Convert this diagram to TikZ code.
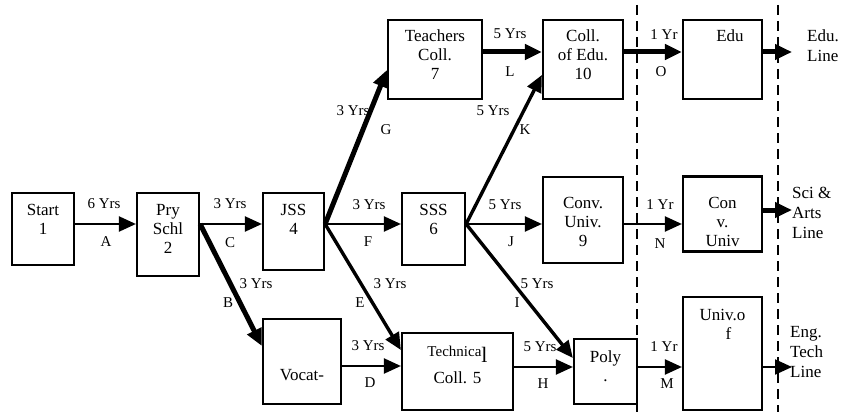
\documentclass[tikz,border=0pt]{standalone}
\usepackage{fontspec}
\setmainfont{Liberation Serif}
\usetikzlibrary{arrows.meta}
\begin{document}
\begin{tikzpicture}[x=1pt,y=-1pt,
  box/.style={draw, line width=2.2pt, fill=white, inner sep=0pt},
  btxt/.style={font=\fontsize{17}{19}\selectfont, align=center, inner sep=0pt, anchor=north},
  lab/.style={font=\fontsize{15}{18}\selectfont, inner sep=0pt},
  side/.style={font=\fontsize{17}{20}\selectfont, align=left, inner sep=0pt, anchor=north west},
  tip/.style={-{Triangle[length=17pt,width=15pt]}},
  thinarr/.style={tip, line width=2.2pt},
  medarr/.style={tip, line width=3.4pt},
  thickarr/.style={tip, line width=5pt},
  divider/.style={line width=2.5pt, dash pattern=on 10pt off 6pt}]
\useasboundingbox (0,0) rectangle (843,412);
% helper rows
\coordinate (y52) at (0,52);
\coordinate (y70) at (0,70);
\coordinate (y75) at (0,75);
\coordinate (y210) at (0,210);
\coordinate (y224) at (0,224);
\coordinate (y346) at (0,346);
\coordinate (y350) at (0,350);
\coordinate (y358) at (0,358);
\coordinate (y366) at (0,366);
\coordinate (y367) at (0,367);
% dashed dividers
\coordinate (d1t) at (637,5);
\coordinate (d1b) at (637,412);
\coordinate (d2t) at (778,5);
\coordinate (d2b) at (778,412);
\draw[divider] (d1t) -- (d1b);
\draw[divider] (d2t) -- (d2b);
% boxes
\node[box, minimum width=62pt, minimum height=72pt] (start) at (43,229) {};
\node[box, minimum width=62pt, minimum height=83pt] (pry) at (168,234.5) {};
\node[box, minimum width=61pt, minimum height=77pt] (jss) at (293.5,231.5) {};
\node[box, minimum width=63pt, minimum height=72pt] (sss) at (433.5,229) {};
\node[box, minimum width=94pt, minimum height=79pt] (teach) at (435,59.5) {};
\node[box, minimum width=80pt, minimum height=79pt] (colledu) at (583,59.5) {};
\node[box, minimum width=79pt, minimum height=79pt] (edu) at (722.5,59.5) {};
\node[box, minimum width=80pt, minimum height=86pt] (conv) at (583,220) {};
\node[box, minimum width=79pt, minimum height=75pt] (conuniv) at (722.5,214) {};
\node[box, minimum width=78pt, minimum height=85pt] (vocat) at (302,361.5) {};
\node[box, minimum width=111pt, minimum height=77pt] (tech) at (457.5,371.5) {};
\node[box, minimum width=63pt, minimum height=65pt] (poly) at (605.5,371.5) {};
\node[box, minimum width=79pt, minimum height=113pt] (univ) at (722.5,353.5) {};
% box texts
\node[btxt] (tstart) at (43,204) {Start\\1};
\node[btxt] (tpry) at (168,204) {Pry\\Schl\\2};
\node[btxt] (tjss) at (293.5,204) {JSS\\4};
\node[btxt] (tsss) at (433.5,204) {SSS\\6};
\node[btxt] (tteach) at (435,30) {Teachers\\Coll.\\7};
\node[btxt] (tcolledu) at (583,30) {Coll.\\of Edu.\\10};
\node[btxt] (tedu) at (730,30) {Edu};
\node[btxt] (tconv) at (583,197) {Conv.\\Univ.\\9};
\node[btxt] (tconuniv) at (722.5,197) {Con\\v.\\Univ};
\node[btxt] (tvocat) at (302,369) {Vocat-};
\node[btxt] (ttech) at (457.5,346) {{\fontsize{15}{18}\selectfont Technica}\smash{\raisebox{-6pt}{\fontsize{22}{20}\selectfont l}}\\[8pt]Coll. 5};
\node[btxt] (tpoly) at (605.5,351) {Poly\\.};
\node[btxt] (tuniv) at (722.5,309) {Univ.o\\\hspace*{12pt}f};
% side texts
\node[side] (eduline) at (807,30) {Edu.\\Line};
\node[side] (sciline) at (792,187) {Sci \&\\Arts\\Line};
\node[side] (engline) at (790,326) {Eng.\\Tech\\Line};
\coordinate (eduend) at (792,52);
\coordinate (sciend) at (792,210);
\coordinate (engend) at (792,367);
% connectors
\draw[thinarr] (start.east |- y224) -- (pry.west |- y224);
\draw[thinarr] (pry.east |- y224) -- (jss.west |- y224);
\draw[thinarr] (jss.east |- y224) -- (sss.west |- y224);
\draw[thinarr] (sss.east |- y224) -- (conv.west |- y224);
\draw[thinarr] (conv.east |- y224) -- (conuniv.west |- y224);
\draw[thickarr] (conuniv.east |- y210) -- (sciend);
\draw[thickarr] (teach.east |- y52) -- (colledu.west |- y52);
\draw[thickarr] (colledu.east |- y52) -- (edu.west |- y52);
\draw[thickarr] (edu.east |- y52) -- (eduend);
\draw[thickarr] (jss.east |- y224) -- (teach.west |- y70);
\draw[medarr] (sss.east |- y224) -- (colledu.west |- y75);
\draw[thickarr] (pry.east |- y224) -- (vocat.west |- y346);
\draw[medarr] (jss.east |- y224) -- (tech.west |- y350);
\draw[medarr] (sss.east |- y224) -- (poly.west |- y358);
\draw[thinarr] (vocat.east |- y366) -- (tech.west |- y366);
\draw[thinarr] (tech.east |- y367) -- (poly.west |- y367);
\draw[thinarr] (poly.east |- y367) -- (univ.west |- y367);
\draw[thinarr] (univ.east |- y367) -- (engend);
% connector labels
\node[lab] (lA1) at (104,204) {6 Yrs};
\node[lab] (lA2) at (106,242) {A};
\node[lab] (lC1) at (230,204) {3 Yrs};
\node[lab] (lC2) at (230,243) {C};
\node[lab] (lF1) at (369,205) {3 Yrs};
\node[lab] (lF2) at (368,242) {F};
\node[lab] (lJ1) at (505,205) {5 Yrs};
\node[lab] (lJ2) at (511,242) {J};
\node[lab] (lN1) at (660,205) {1 Yr};
\node[lab] (lN2) at (660,244) {N};
\node[lab] (lL1) at (510,34) {5 Yrs};
\node[lab] (lL2) at (510,72) {L};
\node[lab] (lO1) at (664,35) {1 Yr};
\node[lab] (lO2) at (661,72) {O};
\node[lab] (lG1) at (353,111) {3 Yrs};
\node[lab] (lG2) at (386,130) {G};
\node[lab] (lK1) at (493,111) {5 Yrs};
\node[lab] (lK2) at (525,130) {K};
\node[lab] (lB1) at (256,284) {3 Yrs};
\node[lab] (lB2) at (228,303) {B};
\node[lab] (lE1) at (390,284) {3 Yrs};
\node[lab] (lE2) at (360,303) {E};
\node[lab] (lI1) at (537,284) {5 Yrs};
\node[lab] (lI2) at (517,303) {I};
\node[lab] (lD1) at (368,346) {3 Yrs};
\node[lab] (lD2) at (370,383) {D};
\node[lab] (lH1) at (540,347) {5 Yrs};
\node[lab] (lH2) at (543,384) {H};
\node[lab] (lM1) at (664,347) {1 Yr};
\node[lab] (lM2) at (667,384) {M};
\end{tikzpicture}
\end{document}
